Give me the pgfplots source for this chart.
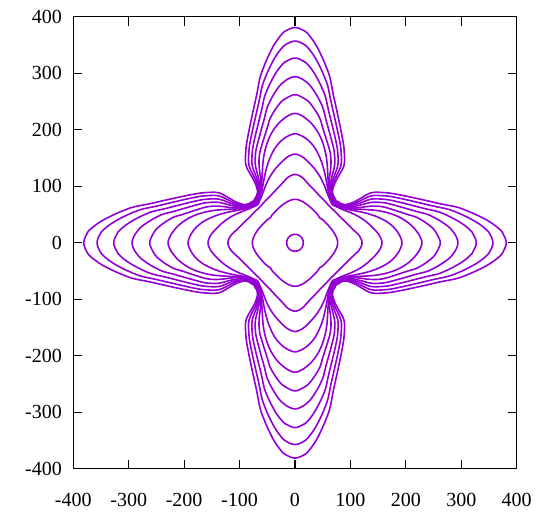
\documentclass[border=0pt]{standalone}
\usepackage{fontspec}
\setmainfont{Liberation Serif}
\usepackage{pgfplots}
\usepackage{pgfplotstable}
\pgfplotsset{compat=1.18}

\definecolor{darkviolet}{HTML}{9400D3}

% One eighth of every closed level curve: from the crossing with the
% positive x axis to the crossing with the diagonal y = x.
% The rest of each curve is obtained by the symmetry of the square.
\pgfplotstableread{
x y
15 0
14.8 2.4
14.3 4.6
13.4 6.8
12.1 8.9
10.6 10.6
}\cA
\pgfplotstableread{
x y
77 0
76.7 3.5
75.5 8
73 13.5
69 20
64 26.5
58.5 32.5
53 38
48.5 42
45.5 43.5
44.5 44.5
}\cB
\pgfplotstableread{
x y
121 0
120.6 3.5
118.5 8.5
114.5 14.5
108 20.5
100 28
92 36
84 43.5
77 50.5
71 56.5
67 60
64.5 62.5
63.5 63.5
}\cC
\pgfplotstableread{
x y
157 0
156.6 3.5
154.5 9
151 15
146.5 20.5
140 27
132 34.5
122 42
111 48.5
100 53.5
90 57.3
82 60.5
76 63.2
71.5 65.3
68.7 66.3
67.5 67.5
}\cD
\pgfplotstableread{
x y
193 0
192.7 3.5
191 8
188 14.5
183 22
176 29.5
167 36.5
156 42.5
143 48
130 52
117 55
104 57.5
93 59.5
85 61.5
79 63.5
74.5 65.7
71 67.3
69.5 67.5
68.5 68.5
}\cE
\pgfplotstableread{
x y
229 0
228.7 3.5
227 8
224 14
219 21
212 29
203 36.5
192 43.5
180 49
166 53.5
152 56.5
140 58
128 58.8
116 59.5
104 60
94 61
86 62.6
80 64.6
75.5 66.6
72.3 68.1
70.5 68.5
69.5 69.5
}\cF
\pgfplotstableread{
x y
262 0
261.7 3.5
260 8
257 14
251.5 22.8
244.5 29.3
232.8 37.7
218.7 45.5
203.5 50
189.5 54.6
173 59.8
159 63.7
145 65
137 64.8
128 64
118 62.6
107 61.8
97 62
89 63
82 64.6
77 66.8
73.5 68.7
71.5 69.5
70.5 70.5
}\cG
\pgfplotstableread{
x y
294 0
293.7 3.5
292 8.5
289 14.5
280.6 25.2
271.7 32.4
256.8 41.8
238.9 50.4
219.5 55.4
201.6 60.5
180.8 66.2
162.9 70.6
145 72
137 71.5
128 69.5
118 66.8
107 64.5
97 63.6
89 64
82 65.8
77.5 68
74.5 70
72.5 70.5
71.5 71.5
}\cH
\pgfplotstableread{
x y
327 0
326.7 3.5
325 8.5
322 14
319.7 18.7
310.6 27.3
299.7 35.1
281.5 45.2
259.7 54.6
236 60.1
214.2 65.5
188.7 71.8
166.8 76.4
145 78
137 77.3
128 74.5
118 70.5
107 67
97 65.3
89 65.1
82 67
78 69.2
75.5 71
73.5 71.5
72.5 72.5
}\cI
\pgfplotstableread{
x y
357 0
356.7 3.5
355 9
352 15
348.5 20.2
337.9 29.4
325.2 37.8
304 48.7
278.6 58.8
251 64.7
225.6 70.6
195.9 77.3
170.4 82.3
145 84
137 83
128 79.5
118 74.5
107 69.5
97 67
89 66.2
83 68
79 70.3
76.5 72
74.5 72.5
73.5 73.5
}\cJ
\pgfplotstableread{
x y
381 0
380.7 3.5
379 9
376 15
372 21.5
360 31.3
346 40.3
322 51.9
294 62.7
263 68.9
235 75.2
202 82.3
173 87.7
155 89.2
145 89.5
137 88.5
128 84.5
118 78.5
107 72.5
97 68.8
90 67.5
84 69
80 71.3
77.5 73
75.5 73.5
74.5 74.5
}\cK

% draw the eight mirror images of one octant
\newcommand{\levelcurve}[1]{%
  \addplot[curve] table[x=x, y=y] {#1};
  \addplot[curve] table[x=y, y=x] {#1};
  \addplot[curve] table[x expr=-\thisrow{x}, y=y] {#1};
  \addplot[curve] table[x expr=-\thisrow{y}, y=x] {#1};
  \addplot[curve] table[x=x, y expr=-\thisrow{y}] {#1};
  \addplot[curve] table[x=y, y expr=-\thisrow{x}] {#1};
  \addplot[curve] table[x expr=-\thisrow{x}, y expr=-\thisrow{y}] {#1};
  \addplot[curve] table[x expr=-\thisrow{y}, y expr=-\thisrow{x}] {#1};
}

\begin{document}
\begin{tikzpicture}
\begin{axis}[
  scale only axis,
  width=443.4bp, height=452bp,
  xmin=-400, xmax=400, ymin=-400, ymax=400,
  xtick distance=100, ytick distance=100,
  tick align=inside, xtick pos=both, ytick pos=both,
  major tick length=9bp,
  axis line style={line width=1.1bp},
  every tick/.style={black, line width=1.1bp},
  tick label style={font=\fontsize{20bp}{22bp}\selectfont},
  /pgf/number format/assume math mode=true,
  yticklabel style={xshift=-8bp},
  xticklabel style={yshift=-21bp},
  curve/.style={color=darkviolet, line width=1.6bp, smooth, no markers},
]
\coordinate (O) at (rel axis cs:0,0);
\levelcurve{\cA}
\levelcurve{\cB}
\levelcurve{\cC}
\levelcurve{\cD}
\levelcurve{\cE}
\levelcurve{\cF}
\levelcurve{\cG}
\levelcurve{\cH}
\levelcurve{\cI}
\levelcurve{\cJ}
\levelcurve{\cK}
\end{axis}
\path ([shift={(-73.3bp,-42.3bp)}]O) rectangle ([shift={(486.7bp,468.8bp)}]O);
\end{tikzpicture}
\end{document}
